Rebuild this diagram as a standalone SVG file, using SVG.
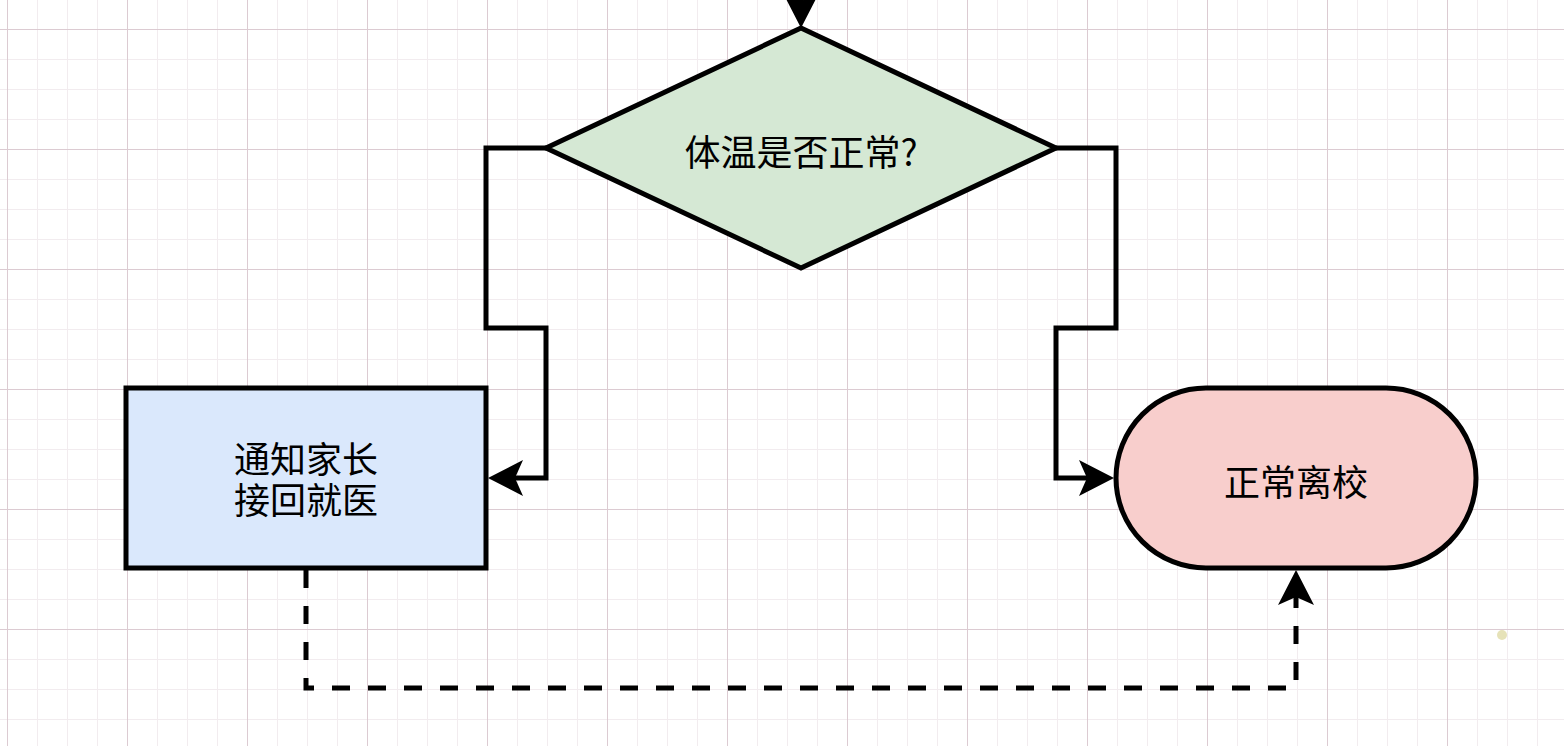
<svg xmlns="http://www.w3.org/2000/svg" width="1564" height="746" viewBox="0 0 1564 746">
<style>
.node{stroke:#000;stroke-width:5}
.lbl{font-family:"Noto Sans CJK SC","Noto Sans",sans-serif;font-size:36px;fill:#000;text-anchor:middle;dominant-baseline:central}
.edge{fill:none;stroke:#000;stroke-width:5;stroke-linejoin:miter;stroke-miterlimit:10}
.dash{stroke-dasharray:18 18}
</style>
<defs>
<pattern id="grid" x="7" y="29" width="120" height="120" patternUnits="userSpaceOnUse">
<path d="M30.5,0V120M60.5,0V120M90.5,0V120M0,30.5H120M0,60.5H120M0,90.5H120" stroke="#f2ecef" stroke-width="1" fill="none"/>
<path d="M0.5,0V120M0,0.5H120" stroke="#dccbd2" stroke-width="1" fill="none"/>
</pattern>
<marker id="arr" viewBox="-10 -20 40 40" refX="0" refY="0" markerWidth="40" markerHeight="40" markerUnits="userSpaceOnUse" orient="auto">
<path d="M27,0 L-8,-18 L0,0 L-8,18 Z" fill="#000"/>
</marker>
</defs>
<rect width="1564" height="746" fill="#fff"/>
<rect width="1564" height="746" fill="url(#grid)"/>
<circle cx="1502" cy="635" r="5" fill="#e6e2b8"/>
<g id="connectors">
<path class="edge" d="M801,-30 V1" marker-end="url(#arr)"/>
<path class="edge" d="M546,148 H486 V328 H546 V478 H515" marker-end="url(#arr)"/>
<path class="edge" d="M1056,148 H1116 V328 H1056 V478 H1087" marker-end="url(#arr)"/>
<path class="edge dash" d="M306,570 V688 H1296 V597" marker-end="url(#arr)"/>
</g>
<g id="decision">
<polygon class="node" points="801,28 1056,148 801,268 546,148" fill="#d5e8d4"/>
<text class="lbl" x="801" y="150">体温是否正常?</text>
</g>
<g id="notify">
<rect class="node" x="126" y="388" width="360" height="180" fill="#dae8fc"/>
<text class="lbl" x="306" y="457"><tspan x="306" y="457">通知家长</tspan><tspan x="306" y="498">接回就医</tspan></text>
</g>
<g id="leave">
<rect class="node" x="1116" y="388" width="360" height="180" rx="90" ry="90" fill="#f8cecc"/>
<text class="lbl" x="1296" y="480">正常离校</text>
</g>
</svg>
